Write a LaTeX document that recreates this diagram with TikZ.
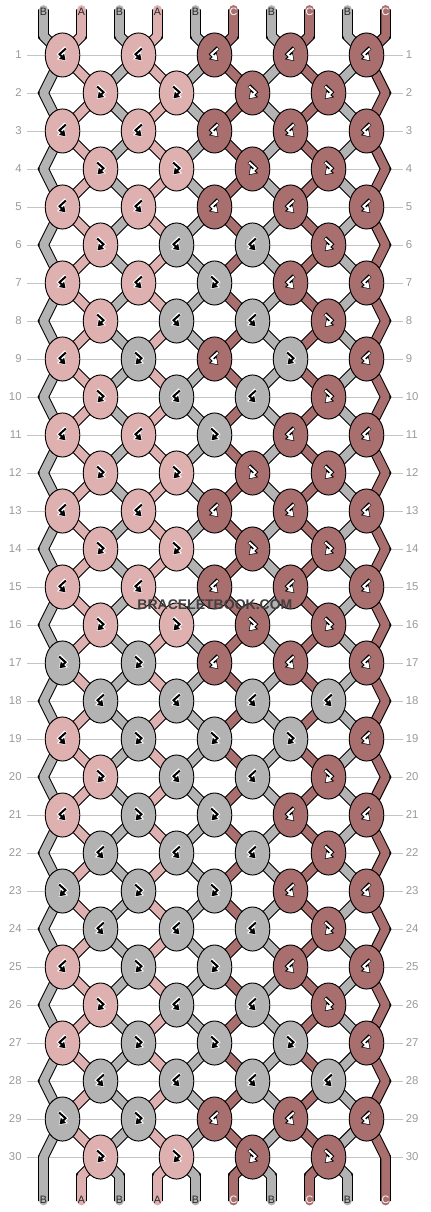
\documentclass[tikz,border=0pt]{standalone}
\usepackage{fontspec}
\setmainfont{Liberation Sans}
\usetikzlibrary{shapes.geometric,arrows.meta,backgrounds}
\definecolor{strA}{HTML}{DFB0B0}
\definecolor{strB}{HTML}{B3B3B3}
\definecolor{strC}{HTML}{A96F6F}
\definecolor{rowgrey}{HTML}{999999}
\definecolor{gridgrey}{HTML}{C4C4C4}
% knot sign: #1 knot, #2 +1 (bf) or -1 (fb), #3 sign colour, #4 rim colour
\newcommand{\knotmark}[4]{%
  \draw[shift={(#1)}, xscale=#2, #4, line width=3pt, line join=miter,
    -{Triangle[length=6pt,width=7.6pt]}] (0.09,0.19) -- (-0.08,0.02) -- (0.1,-0.16);
  \draw[shift={(#1)}, xscale=#2, #3, line width=1.5pt, line join=miter,
    -{Triangle[length=4.2pt,width=5.2pt]}] (0.09,0.17) -- (-0.08,0.02) -- (0.08,-0.14);
}
\begin{document}
\begin{tikzpicture}
	\tikzstyle{every node}+=[inner sep=0pt]
	\tikzstyle{knot}=[ellipse, draw=black, line width=0.7pt, minimum width=0.91cm, minimum height=1.16cm]
	\tikzstyle{thread}=[line width=6.4pt, line cap=round, line join=round, preaction={draw=black, line width=8pt}]
	\tikzstyle{rownum}=[text=rowgrey, font=\fontsize{8.5}{10}\selectfont]
	\tikzstyle{tag}=[font=\fontsize{8}{9}\selectfont]
	\useasboundingbox (-1.145,1.447) rectangle (10.171,-30.447);
	% knots
	\foreach \r/\row in {1/{A,A,C,C,C}, 2/{A,A,C,C}, 3/{A,A,C,C,C}, 4/{A,A,C,C},
		5/{A,A,C,C,C}, 6/{A,B,B,C}, 7/{A,A,B,C,C}, 8/{A,B,B,C}, 9/{A,B,C,B,C},
		10/{A,B,B,C}, 11/{A,A,B,C,C}, 12/{A,A,C,C}, 13/{A,A,C,C,C}, 14/{A,A,C,C},
		15/{A,A,C,C,C}, 16/{A,A,C,C}, 17/{B,B,C,C,C}, 18/{B,B,B,B}, 19/{A,B,B,B,C},
		20/{A,B,B,C}, 21/{A,B,B,C,C}, 22/{B,B,B,C}, 23/{B,B,B,C,C}, 24/{B,B,B,C},
		25/{A,B,B,C,C}, 26/{A,B,B,C}, 27/{A,B,B,B,C}, 28/{B,B,B,B}, 29/{B,B,C,C,C},
		30/{A,A,C,C}}{
		\foreach \c [count=\j] in \row {
			\pgfmathsetmacro\kx{isodd(\r) ? 2*\j-1.5 : 2*\j-0.5}
			\node[knot, fill=str\c] (k-\r-\j) at (\kx,1-\r) {};
			\ifodd\r \if\c B\def\sx{-1}\else\def\sx{1}\fi
			\else \if\c B\def\sx{1}\else\def\sx{-1}\fi\fi
			\if\c C\def\fg{white}\def\bg{black}\else\def\fg{black}\def\bg{white}\fi
			\knotmark{k-\r-\j}{\sx}{\fg}{\bg}
		}
	}
	% turning points at the edges
	\foreach \r in {2,4,...,30}{
		\coordinate (eL-\r) at (0,1-\r);
		\coordinate (eR-\r) at (9,1-\r);
	}
	% where each thread passes in each row
	\foreach \r in {1,...,30}{
		\foreach \i in {0,...,9}{
			\ifodd\r
				\pgfmathtruncatemacro\j{div(\i,2)+1}\edef\tgt{k-\r-\j}
			\else
				\ifnum\i=0 \edef\tgt{eL-\r}\else\ifnum\i=9 \edef\tgt{eR-\r}\else
				\pgfmathtruncatemacro\j{div(\i-1,2)+1}\edef\tgt{k-\r-\j}\fi\fi
			\fi
			\coordinate (s-\i-\r) at (\tgt);
		}
	}
	% thread ends and labels
	\foreach \i/\c in {0/B,1/A,2/B,3/A,4/B,5/C,6/B,7/C,8/B,9/C}{
		\coordinate (t-\i) at (\i,1.2);
		\coordinate (tb-\i) at (\i,0.5);
		\coordinate (bb-\i) at (\i,-29.5);
		\coordinate (b-\i) at (\i,-30.16);
		\if\c C\def\fg{white}\else\def\fg{black!85}\fi
		\node[tag, text=\fg] (lt-\i) at (\i,1.14) {\c};
		\node[tag, text=\fg] (lb-\i) at (\i,-30.13) {\c};
	}
	% row numbers
	\foreach \r in {1,...,30}{
		\node[rownum, anchor=east] (nl-\r) at (-0.57,1-\r) {\r};
		\node[rownum, anchor=west] (nr-\r) at (9.53,1-\r) {\r};
	}
	\begin{scope}[on background layer]
		\foreach \r in {1,...,30}
			\draw[gridgrey, line width=0.7pt] (-0.44,1-\r) -- (9.47,1-\r);
		\foreach \i/\c in {0/B,1/A,2/B,3/A,4/B,5/C,6/B,7/C,8/B,9/C}
			\draw[thread, draw=str\c] (t-\i) -- (tb-\i) \foreach \r in {1,...,30}{ -- (s-\i-\r) } -- (bb-\i) -- (b-\i);
	\end{scope}
	\node[font=\bfseries\fontsize{10.5}{12}\selectfont, text=black!75] (wm) at (4.51,-14.47) {BRACELETBOOK.COM};
\end{tikzpicture}
\end{document}
